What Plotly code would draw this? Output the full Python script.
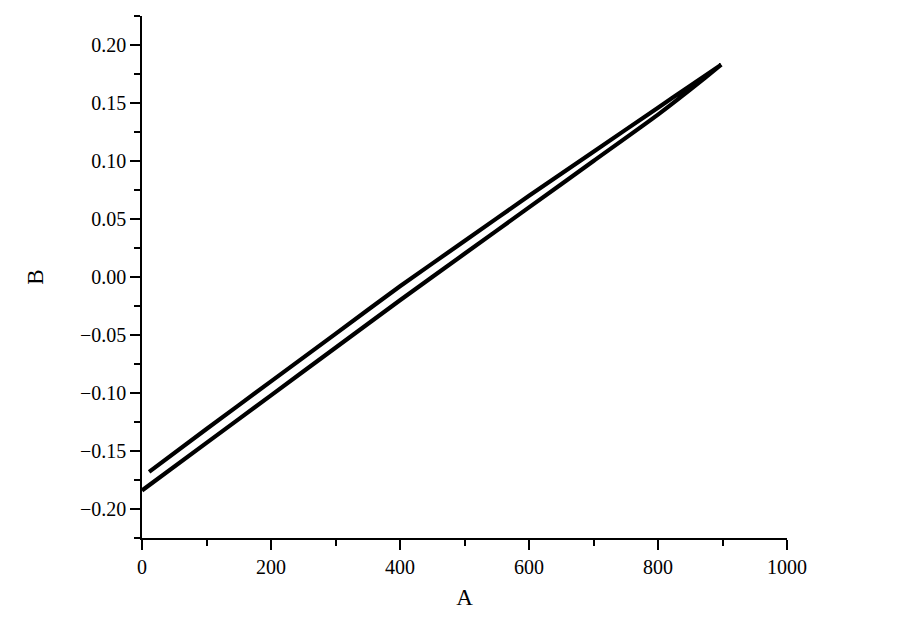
import plotly.graph_objects as go

# Lower (ascending) branch
lower_A = [0, 100, 200, 300, 400, 500, 600, 700, 800, 850, 898]
lower_B = [-0.184, -0.143, -0.102, -0.061, -0.020, 0.020, 0.060, 0.100, 0.140, 0.1615, 0.183]
# Upper (descending) branch
upper_A = [898, 850, 800, 700, 600, 500, 400, 300, 200, 100, 11]
upper_B = [0.183, 0.1648, 0.146, 0.108, 0.070, 0.031, -0.008, -0.049, -0.090, -0.131, -0.168]

x_ticks = [0, 200, 400, 600, 800, 1000]
y_ticks = [-0.20, -0.15, -0.10, -0.05, 0.00, 0.05, 0.10, 0.15, 0.20]

FONT = "Liberation Serif"

fig = go.Figure()
fig.add_trace(go.Scatter(
    x=lower_A + upper_A, y=lower_B + upper_B,
    mode="lines", line=dict(color="black", width=4.2, shape="spline", smoothing=0.6),
    showlegend=False,
))

# page body has an 8px default margin, so the figure is sized/offset to compensate
fig.update_layout(
    width=892, height=623,
    margin=dict(l=134, r=113, t=8, b=93),
    paper_bgcolor="white", plot_bgcolor="white",
    font=dict(family=FONT, color="black"),
    xaxis=dict(
        range=[0, 1000], tickvals=x_ticks, showgrid=False, zeroline=False,
        showline=True, linecolor="black", linewidth=1.5,
        ticks="outside", ticklen=10, tickwidth=1.5, tickcolor="black",
        minor=dict(ticks="outside", dtick=100, ticklen=6, tickwidth=1.5, tickcolor="black", showgrid=False),
        tickfont=dict(size=20, family=FONT),
        title=dict(text="A", font=dict(size=23, family=FONT), standoff=12),
    ),
    yaxis=dict(
        range=[-0.225, 0.225], tickvals=y_ticks, tickformat=".2f",
        showgrid=False, zeroline=False,
        showline=True, linecolor="black", linewidth=1.5,
        ticks="outside", ticklen=10, tickwidth=1.5, tickcolor="black",
        minor=dict(ticks="outside", dtick=0.025, ticklen=6, tickwidth=1.5, tickcolor="black", showgrid=False),
        tickfont=dict(size=20, family=FONT),
        title=dict(text="B", font=dict(size=23, family=FONT), standoff=30),
    ),
)

fig.write_html("out.html")
